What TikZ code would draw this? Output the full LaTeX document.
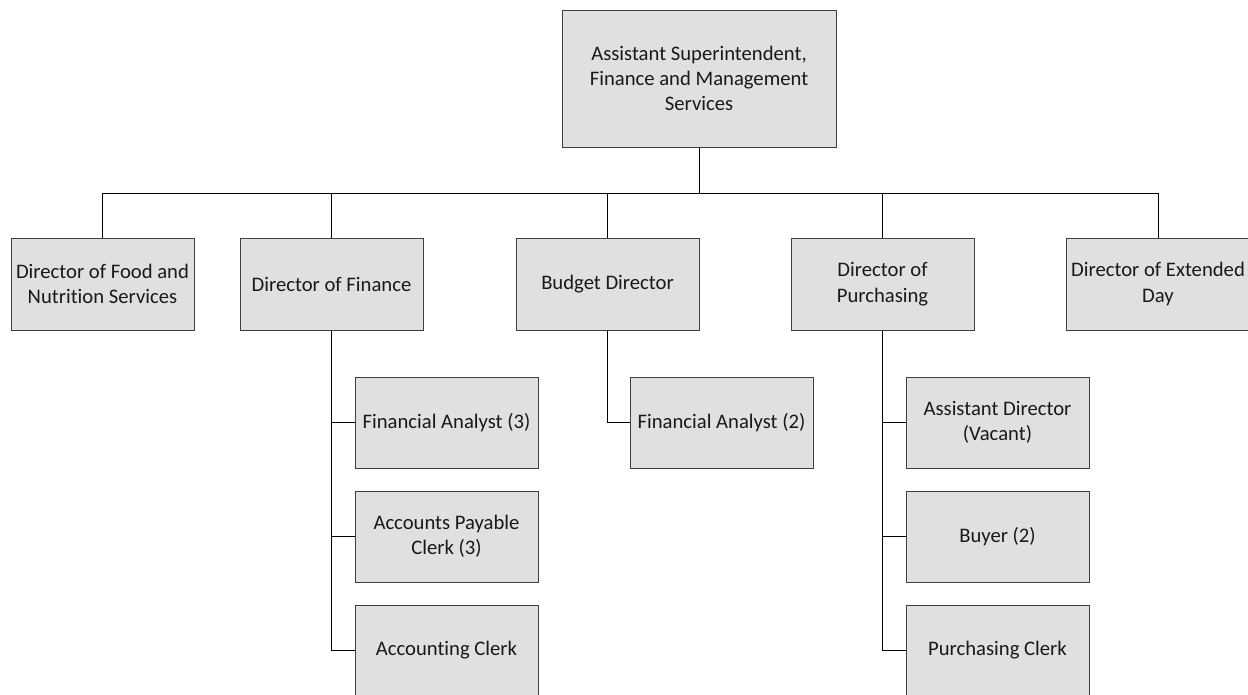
\documentclass[tikz,border=0pt]{standalone}
\usepackage{fontspec}
\setmainfont{Carlito}[RawFeature=-liga]
\begin{document}
\begin{tikzpicture}[x=0.75pt,y=-0.75pt,
  box/.style={draw=black!75,fill=black!12,line width=0.75pt,align=center,
    font=\fontsize{15.5}{19}\selectfont,inner sep=2pt,text=black!90},
  top/.style={box,minimum width=205.5pt,minimum height=102.75pt},
  unit/.style={box,minimum width=137.25pt,minimum height=69pt},
  staff/.style={box,minimum width=137.25pt,minimum height=68.25pt},
  link/.style={draw=black,line width=0.7pt}]
\useasboundingbox (0,0) rectangle (1248,694);
% head of the division
\node[top] (head) at (699,78.5) {Assistant Superintendent,\\Finance and Management\\Services};
% directors
\node[unit] (food) at (102.5,284) {Director of Food and\\Nutrition Services};
\node[unit] (fin)  at (331.5,284) {Director of Finance};
\node[unit] (bud)  at (607.5,284) {Budget Director};
\node[unit] (pur)  at (882.5,284) {Director of\\Purchasing};
\node[unit] (ext)  at (1158,284) {Director of Extended\\Day};
% finance staff
\node[staff] (fa3) at (446.5,422.5) {Financial Analyst (3)};
\node[staff] (apc) at (446.5,536.5) {Accounts Payable\\Clerk (3)};
\node[staff] (acc) at (446.5,650.5) {Accounting Clerk};
% budget staff
\node[staff] (fa2) at (721.5,422.5) {Financial Analyst (2)};
% purchasing staff
\node[staff] (ad)  at (997.5,422.5) {Assistant Director\\(Vacant)};
\node[staff] (buy) at (997.5,536.5) {Buyer (2)};
\node[staff] (pc)  at (997.5,650.5) {Purchasing Clerk};
% bus line under the head box
\coordinate (bus) at (699,193);
\draw[link] (head.south) -- (bus);
\foreach \d in {food,fin,bud,pur,ext}
  \draw[link] (bus) -| (\d.north);
\foreach \s in {fa3,apc,acc}
  \draw[link] (fin.south) |- (\s.west);
\draw[link] (bud.south) |- (fa2.west);
\foreach \s in {ad,buy,pc}
  \draw[link] (pur.south) |- (\s.west);
\end{tikzpicture}
\end{document}
